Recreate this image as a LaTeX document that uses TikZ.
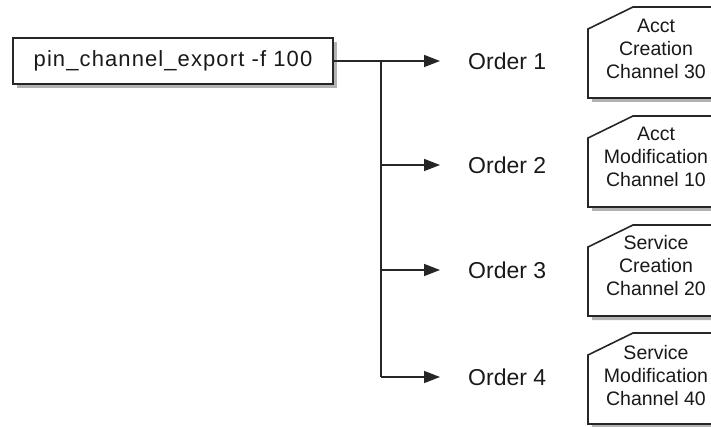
\documentclass[tikz,border=0pt]{standalone}
\usepackage{fontspec}
\setmainfont{Liberation Sans}
\usetikzlibrary{arrows.meta,shadows}
\begin{document}
\begin{tikzpicture}[x=1pt,y=-1pt,
  line/.style={line width=1.6pt, draw=black!85},
  arr/.style={line, -{Triangle[length=16pt,width=12pt]}},
  mainbox/.style={draw=black!85, line width=1.6pt, fill=white, minimum width=320pt, minimum height=46pt, inner sep=0pt,
    font=\fontsize{22}{26}\selectfont\addfontfeature{LetterSpace=5}, text=black!90,
    drop shadow={shadow xshift=4pt, shadow yshift=-4pt, fill=black!30, opacity=1}},
  order/.style={anchor=west, font=\fontsize{23}{27}\selectfont, text=black!90, inner sep=0pt},
  cardtext/.style={align=center, font=\fontsize{19.5}{23}\selectfont, text=black!90, inner sep=0pt},
  cardline/.style={draw=black!85, line width=1.6pt, fill=white},
  cardshadow/.style={fill=black!30},
  card/.pic={
    \fill[cardshadow] (4,26) -- (49,4) -- (174,4) -- (174,95) -- (4,95) -- cycle;
    \draw[cardline] (0,22) -- (45,0) -- (170,0) -- (170,91) -- (0,91) -- cycle;
  }
]
\useasboundingbox (0,0) rectangle (711,427);
\clip (0,0) rectangle (711,427);

\node[mainbox] (src) at (173,61) {pin\_channel\_export -f 100};

\node[order] (o1) at (468,61) {Order 1};
\node[order] (o2) at (468,165) {Order 2};
\node[order] (o3) at (468,270) {Order 3};
\node[order] (o4) at (468,377) {Order 4};

\coordinate (j1) at (381,61);
\draw[arr] (src.east) -- ([xshift=-28pt]o1.west);
\draw[line] (j1) -- (j1 |- o4.west);
\draw[arr] (j1 |- o2.west) -- ([xshift=-28pt]o2.west);
\draw[arr] (j1 |- o3.west) -- ([xshift=-28pt]o3.west);
\draw[arr] (j1 |- o4.west) -- ([xshift=-28pt]o4.west);

\pic at (588,7) {card};
\pic at (588,116) {card};
\pic at (588,225) {card};
\pic at (588,333) {card};

\node[cardtext] (c1) at (656,49) {Acct\\Creation\\Channel 30};
\node[cardtext] (c2) at (656,157) {Acct\\Modification\\Channel 10};
\node[cardtext] (c3) at (656,266) {Service\\Creation\\Channel 20};
\node[cardtext] (c4) at (656,376) {Service\\Modification\\Channel 40};
\end{tikzpicture}
\end{document}
